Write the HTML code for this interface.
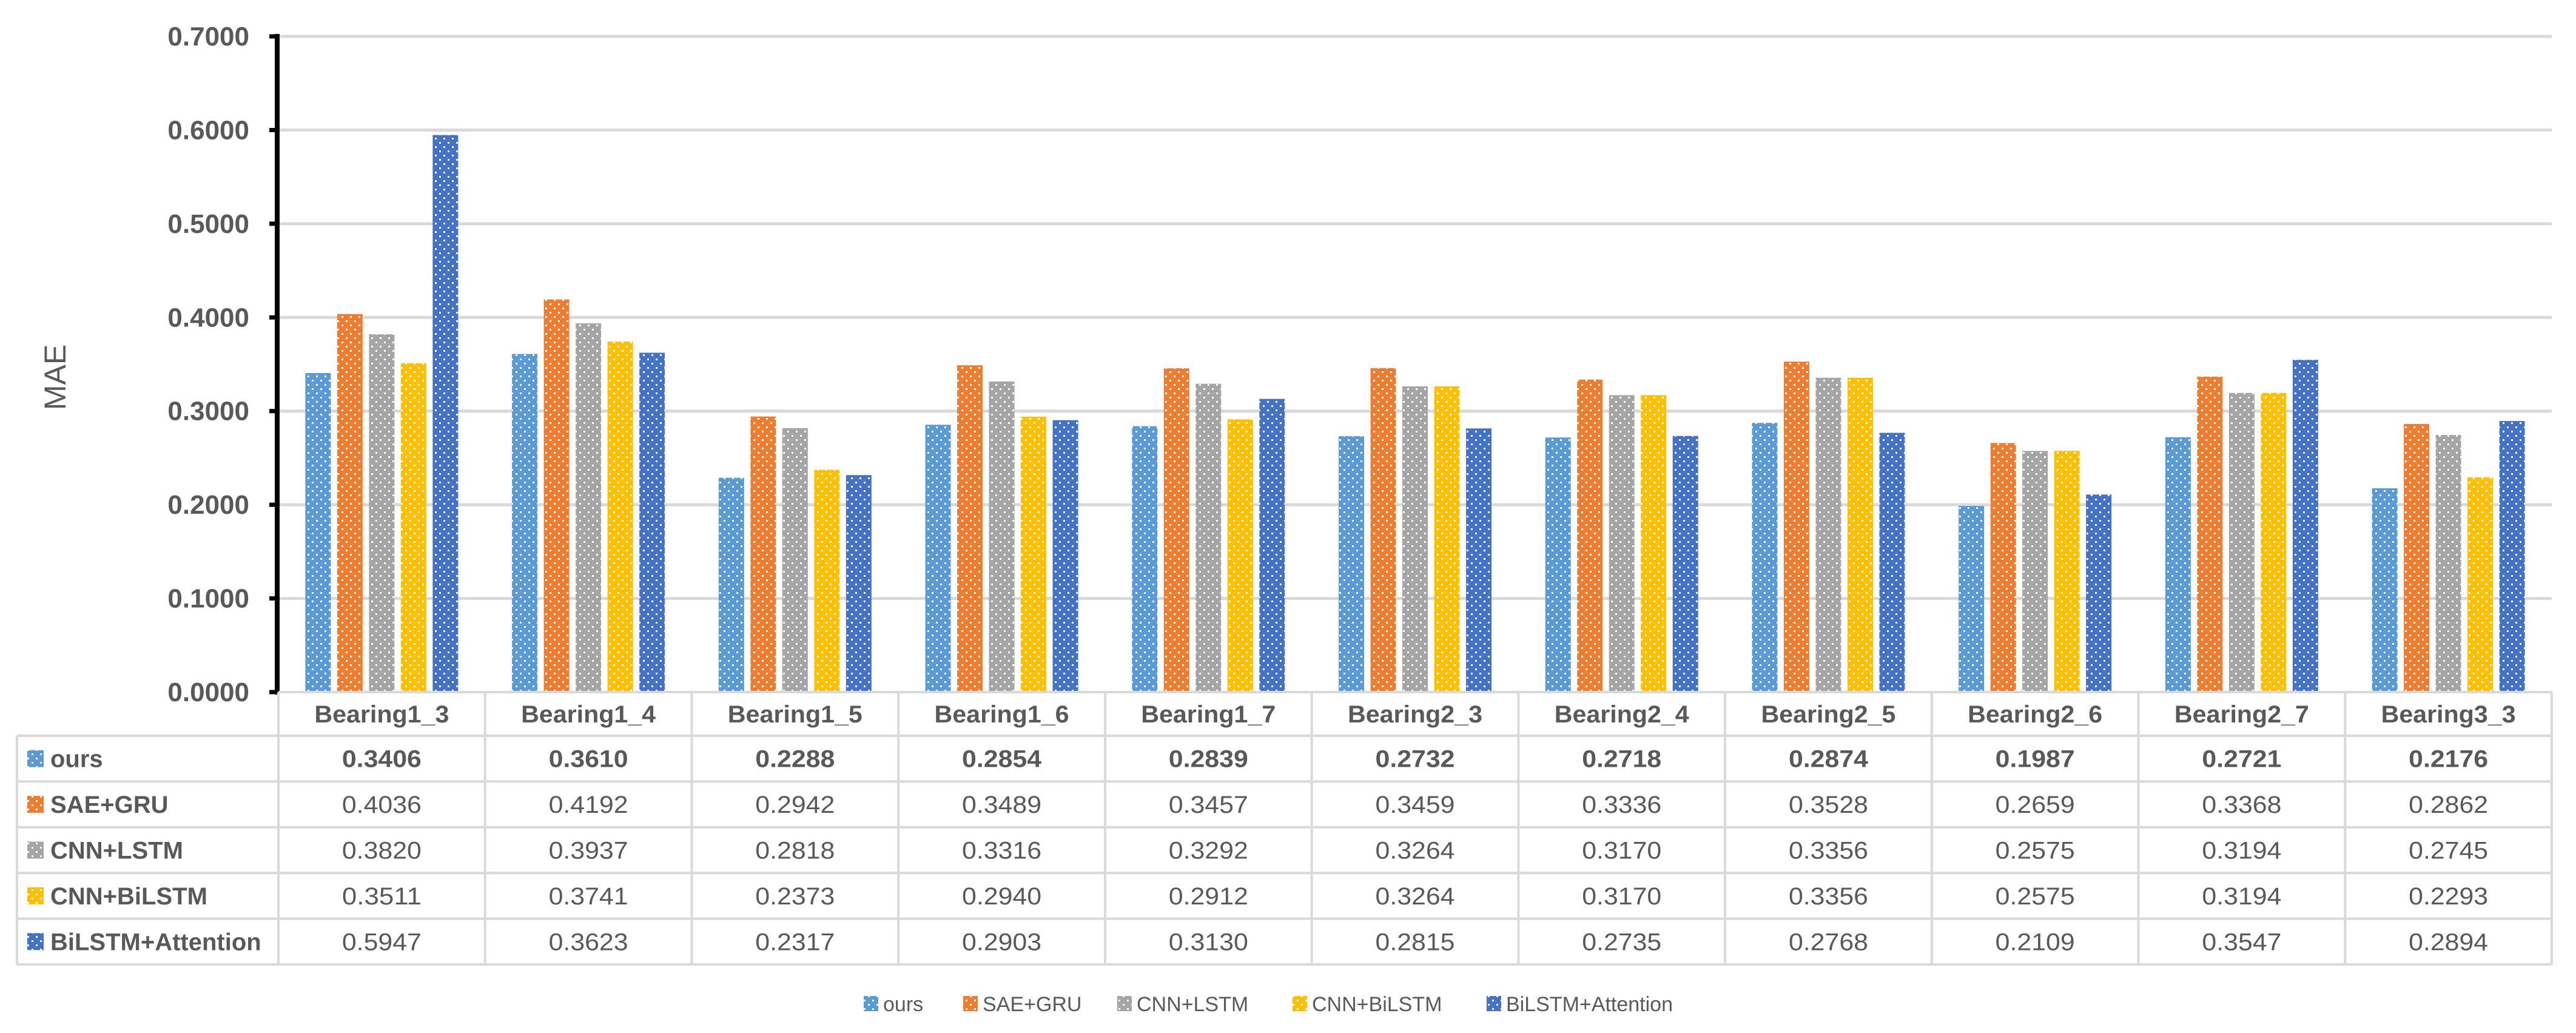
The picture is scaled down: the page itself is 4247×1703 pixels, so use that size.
<!DOCTYPE html>
<html><head><meta charset="utf-8">
<style>
html,body{margin:0;padding:0;background:#fff;}
svg{display:block;}
text{font-family:"Liberation Sans",sans-serif;fill:#595959;}
</style></head>
<body>
<svg id="chart" width="4247" height="1703" viewBox="0 0 4247 1703" xmlns="http://www.w3.org/2000/svg">
<defs id="defs"></defs>
<g id="grid"></g>
<g id="bars"></g>
<g id="axis"></g>
<g id="table"></g>
<g id="legend"></g>
</svg>
<script>
const categories = ["Bearing1_3","Bearing1_4","Bearing1_5","Bearing1_6","Bearing1_7","Bearing2_3","Bearing2_4","Bearing2_5","Bearing2_6","Bearing2_7","Bearing3_3"];
const seriesNames = ["ours","SAE+GRU","CNN+LSTM","CNN+BiLSTM","BiLSTM+Attention"];
const oursValues = [0.3406,0.3610,0.2288,0.2854,0.2839,0.2732,0.2718,0.2874,0.1987,0.2721,0.2176];
const saeGruValues = [0.4036,0.4192,0.2942,0.3489,0.3457,0.3459,0.3336,0.3528,0.2659,0.3368,0.2862];
const cnnLstmValues = [0.3820,0.3937,0.2818,0.3316,0.3292,0.3264,0.3170,0.3356,0.2575,0.3194,0.2745];
const cnnBilstmValues = [0.3511,0.3741,0.2373,0.2940,0.2912,0.3264,0.3170,0.3356,0.2575,0.3194,0.2293];
const bilstmAttValues = [0.5947,0.3623,0.2317,0.2903,0.3130,0.2815,0.2735,0.2768,0.2109,0.3547,0.2894];
const yTicks = [0,0.1,0.2,0.3,0.4,0.5,0.6,0.7];

const allSeries = [oursValues,saeGruValues,cnnLstmValues,cnnBilstmValues,bilstmAttValues];
const colors = ["#5b9bd5","#ed7d31","#a5a5a5","#ffc000","#4472c4"];
const NS = "http://www.w3.org/2000/svg";
const plotL = 459, plotR = 4207, y0 = 1141, y7 = 60;
const catW = (plotR - plotL) / categories.length;
function yScale(v){ return y0 - (v / 0.7) * (y0 - y7); }
function xCat(i){ return plotL + i * catW; }
function mk(tag, attrs, parent){ const e = document.createElementNS(NS, tag); for (const k in attrs) e.setAttribute(k, attrs[k]); parent.appendChild(e); return e; }

const defs = document.getElementById('defs');
colors.forEach((c, i) => {
  const p = mk('pattern', {id:'pat'+i, width:14, height:14, patternUnits:'userSpaceOnUse'}, defs);
  mk('rect', {x:0,y:0,width:14,height:14,fill:c}, p);
  mk('rect', {x:3,y:3,width:3,height:3,fill:'#fff'}, p);
  mk('rect', {x:10,y:10,width:3,height:3,fill:'#fff'}, p);
});

const grid = document.getElementById('grid');
const axis = document.getElementById('axis');
yTicks.forEach(t => {
  const y = yScale(t);
  if (t > 0) {
    const gl = mk('line', {x1:plotL, x2:plotR, y1:y, y2:y, stroke:'#d9d9d9', 'stroke-width':5}, grid);
    
    
  }
  const tk = mk('line', {x1:444, x2:plotL, y1:y, y2:y, stroke:'#000', 'stroke-width':7}, axis);
  
  
  const tl = mk('text', {x:411, y:y+15, 'text-anchor':'end', 'font-size':44, 'font-weight':'bold'}, axis);
  tl.textContent = t.toFixed(4);
  
  
});
const ax = mk('line', {x1:plotL-2, x2:plotL-2, y1:y7-4, y2:y0+4, stroke:'#000', 'stroke-width':8}, axis);


const yt = mk('text', {x:0, y:0, transform:'translate(108,622) rotate(-90)', 'text-anchor':'middle', 'font-size':50}, axis);
yt.textContent = 'MAE';



const bars = document.getElementById('bars');
const barW = 42, pitch = 52.5;
categories.forEach((c, i) => {
  const cx = xCat(i) + catW / 2;
  allSeries.forEach((vals, s) => {
    const x = cx + (s - 2) * pitch - barW / 2;
    const y = yScale(vals[i]);
    const r = mk('rect', {x:x, y:y, width:barW, height:y0 - y, fill:'url(#pat'+s+')'}, bars);
    
    
  });
});

const table = document.getElementById('table');
const tblL = 28, hdrTop = y0, hdrBot = 1213, rowH = 75.4;
const lineAttrs = {stroke:'#d9d9d9', 'stroke-width':4};
// horizontal lines
const hl0 = mk('line', Object.assign({x1:plotL, x2:plotR, y1:hdrTop, y2:hdrTop}, lineAttrs), table);
 
for (let r = 0; r <= 5; r++) {
  const y = hdrBot + r * rowH;
  const l = mk('line', Object.assign({x1:tblL, x2:plotR, y1:y, y2:y}, lineAttrs), table);
  
  
}
const tableBot = hdrBot + 5 * rowH;
const vl = mk('line', Object.assign({x1:tblL, x2:tblL, y1:hdrBot, y2:tableBot}, lineAttrs), table);
 
for (let i = 0; i <= categories.length; i++) {
  const x = xCat(i);
  const l = mk('line', Object.assign({x1:x, x2:x, y1:hdrTop, y2:tableBot}, lineAttrs), table);
  
  
}
categories.forEach((c, i) => {
  const t = mk('text', {x:xCat(i)+catW/2, y:(hdrTop+hdrBot)/2+14, 'text-anchor':'middle', 'font-size':40, 'font-weight':'bold', textLength:222, lengthAdjust:'spacingAndGlyphs'}, table);
  t.textContent = c;
  
  
});
allSeries.forEach((vals, s) => {
  const cy = hdrBot + s * rowH + rowH / 2;
  const sw = mk('rect', {x:45, y:cy-14, width:27, height:28, fill:'url(#pat'+s+')'}, table);
  
  
  const nm = mk('text', {x:83, y:cy+14, 'font-size':40, 'font-weight':'bold'}, table);
  nm.textContent = seriesNames[s];
  
  
  vals.forEach((v, i) => {
    const t = mk('text', {x:xCat(i)+catW/2, y:cy+14, 'text-anchor':'middle', 'font-size':40, 'font-weight': s === 0 ? 'bold' : 'normal', textLength:131, lengthAdjust:'spacingAndGlyphs'}, table);
    t.textContent = v.toFixed(4);
    
    
  });
});

const legend = document.getElementById('legend');
const legX = [1424, 1588, 1842, 2131, 2451];
seriesNames.forEach((n, s) => {
  const sw = mk('rect', {x:legX[s], y:1642, width:24, height:25, fill:'url(#pat'+s+')'}, legend);
  
  
  const t = mk('text', {x:legX[s]+32, y:1667, 'font-size':34}, legend);
  t.textContent = n;
  
  
});
</script>
</body></html>
